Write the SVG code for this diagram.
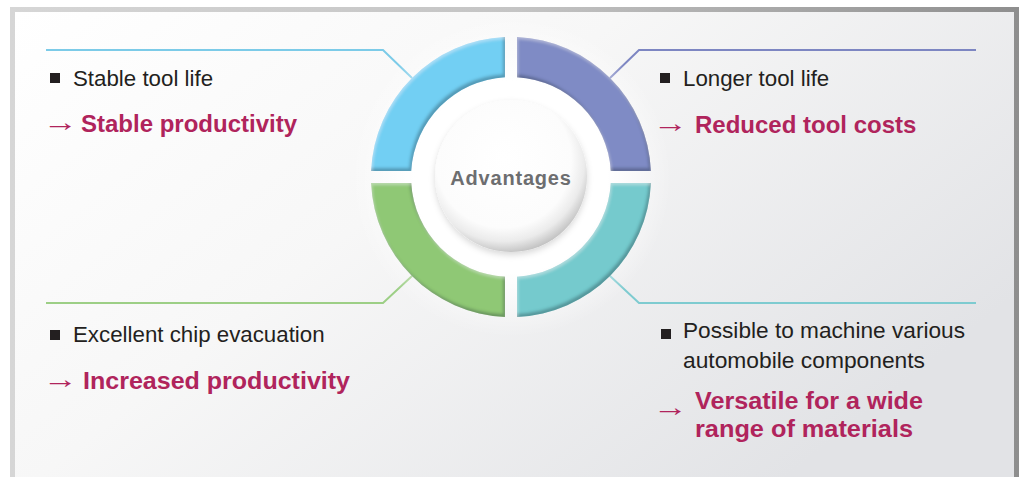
<svg xmlns="http://www.w3.org/2000/svg" width="1024" height="477" viewBox="0 0 1024 477">
<defs>
  <linearGradient id="frame" x1="0" y1="0" x2="1" y2="0">
    <stop offset="0" stop-color="#d6d6d6"/>
    <stop offset="0.5" stop-color="#c4c4c4"/>
    <stop offset="1" stop-color="#8e8e8e"/>
  </linearGradient>
  <linearGradient id="bg" x1="0" y1="0" x2="1" y2="0.6">
    <stop offset="0" stop-color="#ffffff"/>
    <stop offset="0.45" stop-color="#f7f7f7"/>
    <stop offset="1" stop-color="#e2e3e6"/>
  </linearGradient>
  <radialGradient id="glow" cx="0.5" cy="0.5" r="0.5">
    <stop offset="0.6" stop-color="#ffffff" stop-opacity="1"/>
    <stop offset="1" stop-color="#ffffff" stop-opacity="0"/>
  </radialGradient>
  <radialGradient id="gCenter" cx="0.45" cy="0.4" r="0.62" fx="0.45" fy="0.38">
    <stop offset="0" stop-color="#ffffff"/>
    <stop offset="0.72" stop-color="#fcfcfc"/>
    <stop offset="0.86" stop-color="#ebebeb"/>
    <stop offset="1" stop-color="#bdbdbd"/>
  </radialGradient>
  <filter id="bevel" x="-10%" y="-10%" width="120%" height="120%">
    <feGaussianBlur in="SourceAlpha" stdDeviation="1.5" result="b"/>
    <feOffset in="b" dx="-2" dy="-3" result="o"/>
    <feComposite in="SourceAlpha" in2="o" operator="out" result="edge"/>
    <feFlood flood-color="#1a3040" flood-opacity="0.5"/>
    <feComposite in2="edge" operator="in" result="shadow"/>
    <feOffset in="b" dx="1" dy="2" result="o2"/>
    <feComposite in="SourceAlpha" in2="o2" operator="out" result="edge2"/>
    <feFlood flood-color="#fff" flood-opacity="0.3"/>
    <feComposite in2="edge2" operator="in" result="hl"/>
    <feMerge><feMergeNode in="SourceGraphic"/><feMergeNode in="shadow"/><feMergeNode in="hl"/></feMerge>
  </filter>
  <filter id="drop" x="-20%" y="-20%" width="140%" height="140%">
    <feGaussianBlur in="SourceAlpha" stdDeviation="3"/>
    <feOffset dx="0" dy="3" result="s"/>
    <feFlood flood-color="#000" flood-opacity="0.15"/>
    <feComposite in2="s" operator="in" result="sh"/>
    <feMerge><feMergeNode in="sh"/><feMergeNode in="SourceGraphic"/></feMerge>
  </filter>
</defs>
<style>
  .t { font-family: "Liberation Sans", Arial, sans-serif; font-size: 22.3px; fill: #231f20; }
  .r { font-family: "Liberation Sans", Arial, sans-serif; font-size: 24px; font-weight: bold; fill: #b0245c; }
  .arr { font-family: "Liberation Sans", Arial, sans-serif; font-size: 26px; fill: #b0245c; }
  .bul { fill: #231f20; }
  .ln { fill: none; stroke-width: 2; }
  .seg { filter: url(#bevel); }
  .ctr { font-family: "Liberation Sans", Arial, sans-serif; font-size: 20px; font-weight: bold; fill: #6d6e70; letter-spacing: 0.8px; }
</style>

<rect x="10" y="7" width="1009" height="480" fill="url(#frame)"/>
<rect x="15" y="12" width="999" height="475" fill="url(#bg)"/>

<g id="connectors">
  <polyline class="ln" stroke="#7ccbe8" points="46,50 383,50 412,78"/>
  <polyline class="ln" stroke="#7d86c2" points="976,50 639,50 610,78"/>
  <polyline class="ln" stroke="#9dcf86" points="46,303 383,303 412,276"/>
  <polyline class="ln" stroke="#7ecbd0" points="976,303 639,303 610,276"/>
</g>

<circle cx="511" cy="177" r="160" fill="url(#glow)"/>

<g id="ring">
  <path class="seg" fill="#72cff3" d="M371.1,171 A140,140 0 0 1 505,37.1 L505,77.2 A100,100 0 0 0 411.2,171 Z"/>
  <path class="seg" fill="#7f8bc5" d="M517,37.1 A140,140 0 0 1 650.9,171 L610.8,171 A100,100 0 0 0 517,77.2 Z"/>
  <path class="seg" fill="#8fc874" d="M371.1,183 A140,140 0 0 0 505,316.9 L505,276.8 A100,100 0 0 1 411.2,183 Z"/>
  <path class="seg" fill="#74cacd" d="M517,316.9 A140,140 0 0 0 650.9,183 L610.8,183 A100,100 0 0 1 517,276.8 Z"/>
</g>

<g id="center">
  <circle cx="511" cy="176" r="76" fill="url(#gCenter)" filter="url(#drop)"/>
  <text class="ctr" x="511" y="185" text-anchor="middle">Advantages</text>
</g>

<g id="node-top-left">
  <rect class="bul" x="50" y="73" width="10" height="10"/>
  <text class="t" x="73" y="86">Stable tool life</text>
  <text class="arr" transform="translate(43,131) scale(1.35,1)">→</text>
  <text class="r" x="81" y="132">Stable productivity</text>
</g>

<g id="node-top-right">
  <rect class="bul" x="660" y="73" width="10" height="10"/>
  <text class="t" x="683" y="86">Longer tool life</text>
  <text class="arr" transform="translate(653,132) scale(1.35,1)">→</text>
  <text class="r" x="695" y="133">Reduced tool costs</text>
</g>

<g id="node-bottom-left">
  <rect class="bul" x="50" y="330" width="10" height="10"/>
  <text class="t" x="73" y="342">Excellent chip evacuation</text>
  <text class="arr" transform="translate(43,388) scale(1.35,1)">→</text>
  <text class="r" x="83" y="389" textLength="267" lengthAdjust="spacingAndGlyphs">Increased productivity</text>
</g>

<g id="node-bottom-right">
  <rect class="bul" x="661" y="329" width="10" height="10"/>
  <text class="t" x="683" y="338" textLength="282" lengthAdjust="spacingAndGlyphs">Possible to machine various</text>
  <text class="t" x="683" y="368" textLength="242" lengthAdjust="spacingAndGlyphs">automobile components</text>
  <text class="arr" transform="translate(653,416) scale(1.35,1)">→</text>
  <text class="r" x="695" y="409" textLength="228" lengthAdjust="spacingAndGlyphs">Versatile for a wide</text>
  <text class="r" x="695" y="437" textLength="218" lengthAdjust="spacingAndGlyphs">range of materials</text>
</g>
</svg>
